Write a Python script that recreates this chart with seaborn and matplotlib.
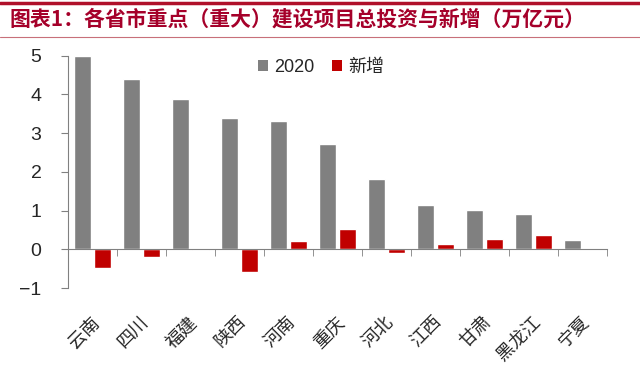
import pandas as pd
import matplotlib.pyplot as plt
import seaborn as sns
from matplotlib.lines import Line2D
from matplotlib.patches import Patch
from matplotlib.ticker import FixedLocator
from matplotlib.transforms import ScaledTranslation

# Data (万亿元)
provinces = ['云南', '四川', '福建', '陕西', '河南', '重庆', '河北', '江西', '甘肃', '黑龙江', '宁夏']
total_2020 = [5.00, 4.40, 3.87, 3.40, 3.32, 2.71, 1.82, 1.14, 1.02, 0.90, 0.25]
new_added = [-0.48, -0.20, -0.02, -0.59, 0.21, 0.52, -0.09, 0.15, 0.26, 0.37, 0.01]
series_names = ['2020', '新增']
colors = ['#808080', '#C00000']

df = pd.DataFrame({
    'province': provinces * 2,
    'value': total_2020 + new_added,
    'series': [series_names[0]] * len(provinces) + [series_names[1]] * len(provinces),
})

sns.set_style('white')
plt.rcParams['font.family'] = ['Liberation Sans', 'Noto Sans CJK SC', 'DejaVu Sans']

fig = plt.figure(figsize=(6.4, 3.68), dpi=100)
ax = fig.add_axes([0.106, 0.217, 0.842, 0.632])

sns.barplot(data=df, x='province', y='value', hue='series', palette=colors,
            width=0.82, gap=0.14, saturation=1, ax=ax, legend=False)

ax.set_ylim(-1, 5)
ax.set_xlim(-0.5, len(provinces) - 0.5)
ax.set_yticks(range(-1, 6))
ax.set_xlabel('')
ax.set_ylabel('')

for s in ['top', 'right']:
    ax.spines[s].set_visible(False)
ax.spines['left'].set_color('#808080')
ax.spines['bottom'].set_color('#808080')
ax.spines['bottom'].set_position(('data', 0))

ax.tick_params(axis='y', which='major', length=5, color='#808080', direction='out',
               labelsize=14, pad=14, left=True)
ax.tick_params(axis='x', which='major', length=0, pad=46)
ax.xaxis.set_minor_locator(FixedLocator([i + 0.5 for i in range(len(provinces))]))
ax.tick_params(axis='x', which='minor', length=5, color='#808080', direction='out', bottom=True)

shift = ScaledTranslation(-2 / 100, 0, fig.dpi_scale_trans)
for lbl in ax.get_xticklabels():
    lbl.set_rotation(45)
    lbl.set_rotation_mode('anchor')
    lbl.set_fontfamily(['Noto Sans CJK SC', 'DejaVu Sans'])
    lbl.set_fontsize(13)
    lbl.set_ha('right')
    lbl.set_va('top')
    lbl.set_transform(lbl.get_transform() + shift)

handles = [Patch(facecolor=c, edgecolor='none') for c in colors]
leg = ax.legend(handles, series_names, loc='upper left', bbox_to_anchor=(0.322, 1.055),
                ncol=2, frameon=False, fontsize=13, handlelength=0.55, handleheight=0.55,
                handletextpad=0.35, columnspacing=1.0)
for t in leg.get_texts():
    t.set_fontfamily(['Liberation Sans', 'Noto Sans CJK SC'])

# title and rules
fig.add_artist(Line2D([0, 1], [0.993, 0.993], color='#B0102A', lw=2.5))
fig.add_artist(Line2D([0, 1], [0.9, 0.9], color='#C8707A', lw=0.8))
fig.text(0.015, 0.948, '图表1：各省市重点（重大）建设项目总投资与新增（万亿元）',
         color='#A5002A', fontsize=15, fontweight='bold', style='italic',
         family=['Noto Sans CJK SC', 'DejaVu Sans'], va='center', ha='left')

fig.savefig('out.png', dpi=100)
